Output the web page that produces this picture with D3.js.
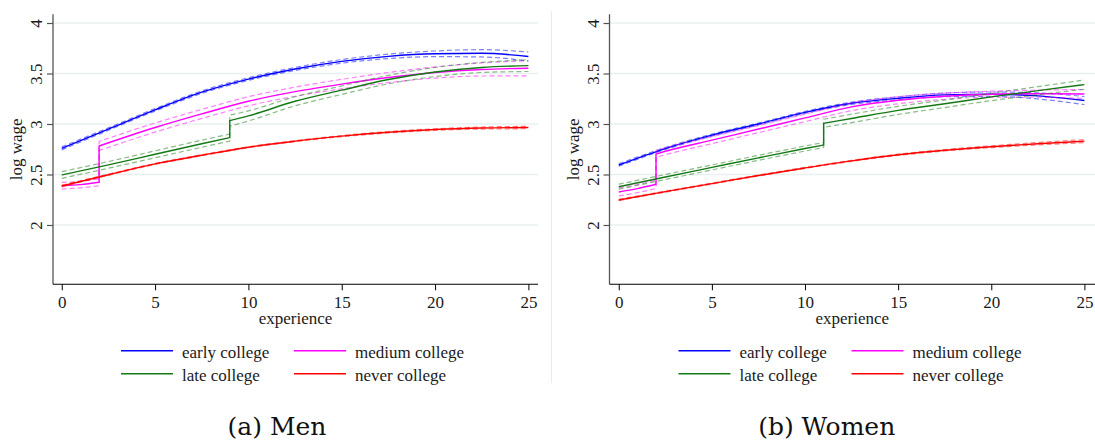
<!DOCTYPE html>
<html><head><meta charset="utf-8">
<script src="https://cdn.jsdelivr.net/npm/d3@7"></script>
<style>
body{margin:0;background:#fff}
svg{display:block}
</style>
</head><body>
<svg id="c" width="1095" height="440"></svg>
<script>
// ---------- data ----------
const grid = [0, 2.5, 5, 7.5, 10, 12.5, 15, 17.5, 20, 22.5, 25];
const xTicks = [0, 5, 10, 15, 20, 25];
const yTicks = [2, 2.5, 3, 3.5, 4];
const yTickLabels = ["2", "2.5", "3", "3.5", "4"];
const seriesNames = ["early college", "medium college", "late college", "never college"];
const seriesColors = ["#0000ff", "#ff00ff", "#137a13", "#ff0000"];
const captions = ["(a) Men", "(b) Women"];

// Men
const menEarlyEst = [2.759, 2.95, 3.14, 3.315, 3.445, 3.545, 3.62, 3.67, 3.695, 3.70, 3.668];
const menEarlyHalf = [0.015, 0.012, 0.012, 0.012, 0.013, 0.015, 0.018, 0.022, 0.028, 0.036, 0.045];
const menMediumPreX = [0, 1, 2];
const menMediumPreEst = [2.389, 2.40, 2.423];
const menMediumPreHalf = [0.033, 0.032, 0.035];
const menMediumPostX = [2, 5, 7.5, 10, 12.5, 15, 17.5, 20, 22.5, 25];
const menMediumPostEst = [2.782, 2.965, 3.10, 3.225, 3.32, 3.395, 3.46, 3.51, 3.54, 3.552];
const menMediumPostHalf = [0.045, 0.045, 0.045, 0.045, 0.045, 0.047, 0.05, 0.055, 0.065, 0.075];
const menLatePreX = [0, 2.5, 5, 7.5, 9];
const menLatePreEst = [2.495, 2.595, 2.70, 2.805, 2.865];
const menLatePreHalf = [0.033, 0.033, 0.034, 0.035, 0.035];
const menLatePostX = [9, 10, 12.5, 15, 17.5, 20, 22.5, 25];
const menLatePostEst = [3.033, 3.08, 3.225, 3.335, 3.44, 3.515, 3.56, 3.578];
const menLatePostHalf = [0.055, 0.05, 0.045, 0.042, 0.042, 0.045, 0.05, 0.058];
const menNeverEst = [2.386, 2.498, 2.605, 2.69, 2.77, 2.83, 2.88, 2.918, 2.945, 2.96, 2.965];
const menNeverHalf = [0.008, 0.006, 0.005, 0.005, 0.005, 0.005, 0.006, 0.007, 0.008, 0.01, 0.012];

// Women
const womenEarlyEst = [2.594, 2.757, 2.89, 3.0, 3.115, 3.205, 3.255, 3.288, 3.295, 3.278, 3.232];
const womenEarlyHalf = [0.012, 0.01, 0.01, 0.01, 0.01, 0.012, 0.015, 0.018, 0.022, 0.03, 0.04];
const womenMediumPreX = [0, 1, 2];
const womenMediumPreEst = [2.327, 2.36, 2.403];
const womenMediumPreHalf = [0.04, 0.04, 0.042];
const womenMediumPostX = [2, 2.5, 5, 7.5, 10, 12.5, 15, 17.5, 20, 22.5, 25];
const womenMediumPostEst = [2.703, 2.73, 2.84, 2.95, 3.06, 3.17, 3.235, 3.275, 3.295, 3.30, 3.297];
const womenMediumPostHalf = [0.035, 0.035, 0.035, 0.035, 0.037, 0.038, 0.035, 0.03, 0.03, 0.035, 0.045];
const womenLatePreX = [0, 2.5, 5, 7.5, 10, 11];
const womenLatePreEst = [2.379, 2.475, 2.57, 2.665, 2.757, 2.792];
const womenLatePreHalf = [0.025, 0.025, 0.025, 0.025, 0.025, 0.025];
const womenLatePostX = [11, 12.5, 15, 17.5, 20, 22.5, 25];
const womenLatePostEst = [3.007, 3.055, 3.135, 3.20, 3.268, 3.33, 3.39];
const womenLatePostHalf = [0.04, 0.042, 0.04, 0.037, 0.037, 0.04, 0.046];
const womenNeverEst = [2.248, 2.33, 2.41, 2.49, 2.565, 2.635, 2.695, 2.74, 2.775, 2.805, 2.83];
const womenNeverHalf = [0.006, 0.005, 0.005, 0.005, 0.005, 0.005, 0.006, 0.007, 0.009, 0.012, 0.015];

// ---------- assemble ----------
function seg(x, est, half) { return { x, est, half }; }
const panelsData = [
  [
    [seg(grid, menEarlyEst, menEarlyHalf)],
    [seg(menMediumPreX, menMediumPreEst, menMediumPreHalf), seg(menMediumPostX, menMediumPostEst, menMediumPostHalf)],
    [seg(menLatePreX, menLatePreEst, menLatePreHalf), seg(menLatePostX, menLatePostEst, menLatePostHalf)],
    [seg(grid, menNeverEst, menNeverHalf)]
  ],
  [
    [seg(grid, womenEarlyEst, womenEarlyHalf)],
    [seg(womenMediumPreX, womenMediumPreEst, womenMediumPreHalf), seg(womenMediumPostX, womenMediumPostEst, womenMediumPostHalf)],
    [seg(womenLatePreX, womenLatePreEst, womenLatePreHalf), seg(womenLatePostX, womenLatePostEst, womenLatePostHalf)],
    [seg(grid, womenNeverEst, womenNeverHalf)]
  ]
];

// ---------- layout ----------
const SERIF = '"Liberation Serif"';
const panels = [
  { axisX: 53, xr: [61.75, 528.4], right: 538, capX: 277, legX: 121 },
  { axisX: 609.5, xr: [618.75, 1084.4], right: 1095, capX: 826.7, legX: 678.5 }
];
const yTop = 14.3, yBottom = 284.3;
const y = d3.scaleLinear().domain([2, 4]).range([225, 23]);

const svg = d3.select("#c");

function serifText(sel, size) {
  return sel.style("font-family", SERIF).style("font-size", size + "px").style("fill", "#1a1a1a");
}

// separator between panels
svg.append("line").attr("x1", 551.5).attr("x2", 551.5).attr("y1", 11).attr("y2", 383)
  .attr("stroke", "#e4ecec").attr("stroke-width", 1);

panels.forEach((p, pi) => {
  const x = d3.scaleLinear().domain([0, 25]).range(p.xr);
  const g = svg.append("g");

  // gridlines
  g.selectAll("line.grid").data(yTicks).join("line")
    .attr("x1", p.axisX).attr("x2", p.right)
    .attr("y1", d => y(d)).attr("y2", d => y(d))
    .attr("stroke", "#e8f0f0").attr("stroke-width", 1.3);

  // y axis
  const yAxis = d3.axisLeft(y).tickValues(yTicks).tickSize(6).tickFormat((d, i) => yTickLabels[i]);
  const ya = g.append("g").attr("transform", `translate(${p.axisX},0)`).call(yAxis)
    .attr("font-family", null).attr("font-size", null);
  ya.select(".domain").remove();
  ya.selectAll(".tick line").attr("stroke", "#555").attr("stroke-width", 1.2);
  serifText(ya.selectAll(".tick text")
    .attr("x", null).attr("dy", null)
    .attr("transform", "translate(-11,0) rotate(-90)")
    .attr("text-anchor", "middle"), 17);
  g.append("line").attr("x1", p.axisX).attr("x2", p.axisX).attr("y1", yTop).attr("y2", yBottom)
    .attr("stroke", "#555").attr("stroke-width", 1.3);

  // x axis
  const xAxis = d3.axisBottom(x).tickValues(xTicks).tickSize(6).tickPadding(3);
  const xa = g.append("g").attr("transform", `translate(0,${yBottom})`).call(xAxis)
    .attr("font-family", null).attr("font-size", null);
  xa.select(".domain").remove();
  xa.selectAll(".tick line").attr("stroke", "#000");
  serifText(xa.selectAll(".tick text").attr("dy", null).attr("y", 24), 17);
  g.append("line").attr("x1", p.axisX).attr("x2", p.right).attr("y1", yBottom).attr("y2", yBottom)
    .attr("stroke", "#000").attr("stroke-width", 1.1);

  // axis titles
  serifText(g.append("text").attr("x", (p.axisX + p.right) / 2).attr("y", 323.5)
    .attr("text-anchor", "middle"), 17).text("experience");
  serifText(g.append("text").attr("transform", `translate(${p.axisX - 31},${(yTop + yBottom) / 2}) rotate(-90)`)
    .attr("text-anchor", "middle"), 17).text("log wage");

  // series
  const lineGen = d3.line().x(d => x(d[0])).y(d => y(d[1])).curve(d3.curveMonotoneX);
  function pathFor(segs, which) {
    return segs.map((s, si) => {
      const pts = s.x.map((xv, i) => [xv, which === 0 ? s.est[i] : s.est[i] + which * s.half[i]]);
      const d = lineGen(pts);
      return si === 0 ? d : d.replace(/^M/, "L");
    }).join("");
  }
  panelsData[pi].forEach((segs, si) => {
    const col = seriesColors[si];
    [1, -1].forEach(w => {
      g.append("path").attr("d", pathFor(segs, w))
        .attr("fill", "none").attr("stroke", col).attr("stroke-opacity", 0.5)
        .attr("stroke-width", 1.2).attr("stroke-dasharray", "5,3");
    });
    g.append("path").attr("d", pathFor(segs, 0))
      .attr("fill", "none").attr("stroke", col).attr("stroke-width", 1.4);
  });

  // legend
  const legPos = [[0, 0], [173, 0], [0, 1], [173, 1]];
  seriesNames.forEach((name, i) => {
    const lx = p.legX + legPos[i][0];
    const ly = 350.7 + legPos[i][1] * 23;
    g.append("line").attr("x1", lx).attr("x2", lx + 52).attr("y1", ly).attr("y2", ly)
      .attr("stroke", seriesColors[i]).attr("stroke-width", 1.4);
    serifText(g.append("text").attr("x", lx + 61).attr("y", ly + 7.3), 17).text(name);
  });

  // caption
  svg.append("text").attr("x", p.capX).attr("y", 435).attr("text-anchor", "middle")
    .style("font-family", '"DejaVu Serif"').style("font-size", "25px").style("fill", "#111")
    .text(captions[pi]);
});
</script>
</body></html>
